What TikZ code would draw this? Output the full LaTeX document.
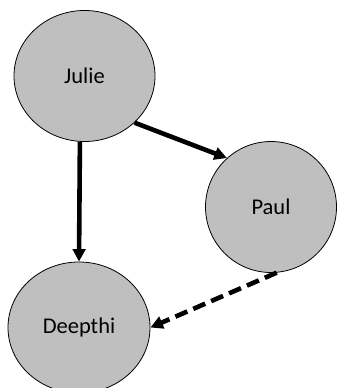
\documentclass[tikz,border=0pt]{standalone}
\usepackage{fontspec}
\setmainfont{Carlito}
\usetikzlibrary{shapes.geometric,arrows.meta}

\begin{document}
\begin{tikzpicture}[x=1pt,y=-1pt,
    person/.style={ellipse,draw=black,line width=0.8pt,fill=black!25,inner sep=0pt,font=\fontsize{22.5}{26}\selectfont},
    link/.style={line width=4.6pt,-{Triangle[width=12.5pt,length=12.5pt]}}]
    \useasboundingbox (0,0) rectangle (338,388);

    \node[person,minimum width=141pt,minimum height=131pt] (julie) at (84.5,76) {Julie};
    \node[person,minimum width=131pt,minimum height=131pt] (paul) at (271,207) {Paul};
    \node[person,minimum width=142pt,minimum height=131pt] (deepthi) at (79,327.5) {Deepthi};

    \draw[link] (julie.-94) -- (deepthi.north);
    \draw[link] (julie.-43) -- (paul.132);
    \draw[link,dash pattern=on 13pt off 6.5pt] (paul.-85) -- (deepthi.east);
\end{tikzpicture}
\end{document}
